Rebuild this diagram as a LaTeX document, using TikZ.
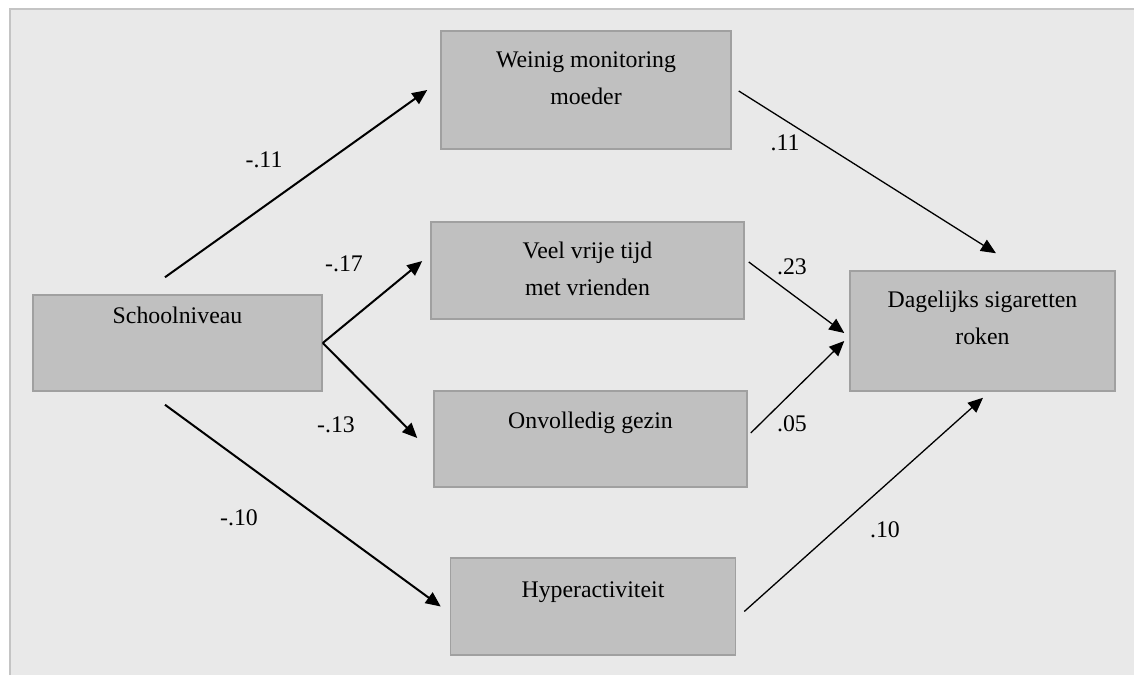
\documentclass[tikz,border=0pt]{standalone}
\usepackage{fontspec}
\setmainfont{Liberation Serif}
\usetikzlibrary{arrows.meta}
\definecolor{panel}{HTML}{E9E9E9}
\definecolor{frameline}{HTML}{C4C4C4}
\definecolor{boxfill}{HTML}{C0C0C0}
\definecolor{boxline}{HTML}{A0A0A0}

\begin{document}
\begin{tikzpicture}[x=0.5pt,y=-0.5pt,every node/.style={font=\fontsize{11.9}{18.5}\selectfont},
  box/.style={draw=boxline,line width=0.75pt,fill=boxfill,inner sep=0pt},
  txt/.style={align=center,inner sep=0pt,anchor=base},
  coef/.style={inner sep=0pt},
  arr/.style={-{Triangle[length=7.5pt,width=6.5pt]},line width=1pt},
  arrthin/.style={-{Triangle[length=7.5pt,width=6.5pt]},line width=0.65pt}]
\useasboundingbox (0,0) rectangle (1134,675);
\fill[white] (0,0) rectangle (1134,675);
\fill[panel] (10,9) rectangle (1134,675);
\draw[frameline,line width=1pt] (10,675) -- (10,9) -- (1134,9);
% boxes
\node[box,minimum width=144.5pt,minimum height=48pt] (school) at (177.5,343) {};
\node[box,minimum width=145pt,minimum height=59pt] (weinig) at (586,90) {};
\node[box,minimum width=156.5pt,minimum height=48.5pt] (veel) at (587.5,270.5) {};
\node[box,minimum width=156.5pt,minimum height=48pt] (onvolledig) at (590.5,439) {};
\node[box,minimum width=132.5pt,minimum height=60pt] (dagelijks) at (982.5,331) {};
\node[box,minimum width=142.5pt,minimum height=48.5pt] (hyper) at (593,606.5) {};
% texts (base = last line)
\node[txt] (school-t) at ([shift={(0,29)}]school.north) {Schoolniveau};
\node[txt] (weinig-t) at ([shift={(0,74)}]weinig.north) {Weinig monitoring\\moeder};
\node[txt] (veel-t) at ([shift={(0,74)}]veel.north) {Veel vrije tijd\\met vrienden};
\node[txt] (onvolledig-t) at ([shift={(0,38)}]onvolledig.north) {Onvolledig gezin};
\node[txt] (dagelijks-t) at ([shift={(0,74)}]dagelijks.north) {Dagelijks sigaretten\\roken};
\node[txt] (hyper-t) at ([shift={(0,40)}]hyper.north) {Hyperactiviteit};
% paths
\draw[arr] ([shift={(-12.5,-17)}]school.north) -- ([shift={(-13,0)}]weinig.west);
\draw[arr] (school.east) -- ([shift={(-8,-9.5)}]veel.west);
\draw[arr] (school.east) -- ([shift={(-16,-1)}]onvolledig.west);
\draw[arr] ([shift={(-12.5,13)}]school.south) -- ([shift={(-9,0)}]hyper.west);
\draw[arrthin] ([shift={(7,1)}]weinig.east) -- ([shift={(13.5,-17)}]dagelijks.north);
\draw[arrthin] ([shift={(4,-8.5)}]veel.east) -- ([shift={(-5,2)}]dagelijks.west);
\draw[arrthin] ([shift={(3,-6)}]onvolledig.east) -- ([shift={(-5,10)}]dagelijks.west);
\draw[arrthin] ([shift={(8,5)}]hyper.east) -- ([shift={(0.5,6)}]dagelijks.south);
% coefficients
\node[coef] (c-sw) at (264,160) {-.11};
\node[coef] (c-sv) at (344,264) {-.17};
\node[coef] (c-so) at (336,425) {-.13};
\node[coef] (c-sh) at (239,518) {-.10};
\node[coef] (c-wd) at (785,143) {.11};
\node[coef] (c-vd) at (792,267) {.23};
\node[coef] (c-od) at (792,424) {.05};
\node[coef] (c-hd) at (885,530) {.10};
\end{tikzpicture}
\end{document}
